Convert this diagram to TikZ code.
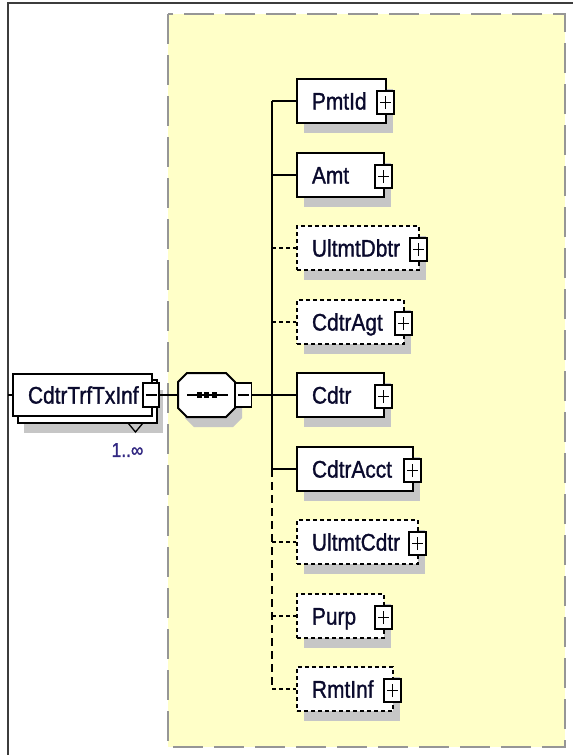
\documentclass[tikz,border=0pt]{standalone}
\usepackage{fontspec}
\setmainfont{Liberation Sans}[FakeStretch=0.87,FakeBold=1.2]
\usetikzlibrary{shadows}
\definecolor{yel}{RGB}{255,255,200}
\definecolor{shgray}{RGB}{198,198,198}
\definecolor{dgray}{RGB}{150,150,150}
\definecolor{framecol}{RGB}{60,60,60}
\definecolor{txt}{RGB}{10,10,45}
\definecolor{multcol}{RGB}{50,40,130}
\tikzset{
  elem/.style={draw=black, line width=2pt, fill=white, minimum height=44pt,
    inner xsep=15pt, inner ysep=0pt, align=left, text height=17.2pt, text depth=0pt,
    font=\fontsize{24}{24}\selectfont, text=txt, anchor=west,
    drop shadow={shadow xshift=7pt, shadow yshift=-10pt, fill=shgray, opacity=1}},
  optelem/.style={elem, dash pattern=on 4pt off 3pt},
  pmbox/.style={draw=black, fill=white, line width=1.5pt, minimum width=17pt,
    minimum height=23pt, inner sep=0pt},
  plusbox/.style={pmbox, path picture={
    \draw[line width=1.5pt] ([xshift=-5.5pt]path picture bounding box.center) -- ([xshift=5.5pt]path picture bounding box.center)
      ([yshift=-6.5pt]path picture bounding box.center) -- ([yshift=6.5pt]path picture bounding box.center);}},
  minusbox/.style={pmbox, minimum width=16pt, minimum height=24pt, path picture={
    \draw[line width=1.5pt] ([xshift=-5.5pt]path picture bounding box.center) -- ([xshift=5.5pt]path picture bounding box.center);}},
  conn/.style={line width=2pt, black},
  optconn/.style={conn, dash pattern=on 4pt off 3pt},
}
\begin{document}
\begin{tikzpicture}[x=1pt,y=-1pt]
\useasboundingbox (0,0) rectangle (573,755);
% yellow sequence area
\draw[fill=yel, draw=dgray, line width=1.8pt, dash pattern=on 30pt off 11pt] (168,14) rectangle (565,747);
% outer frame
\draw[framecol, line width=1.8pt] (8,755) -- (8,3) -- (573,3);

% root element (repeated)
\node[draw=black, line width=2pt, fill=white, minimum width=139pt, minimum height=43pt, inner sep=0pt,
  drop shadow={shadow xshift=6pt, shadow yshift=-10pt, fill=shgray, opacity=1}] (rootback) at (87.5,401.5) {};
\node[draw=black, line width=2pt, fill=white, minimum width=139pt, minimum height=42pt, inner xsep=15pt,
  inner ysep=0pt, text width=109pt, align=left, text height=17.2pt, text depth=0pt,
  font=\fontsize{24}{24}\selectfont, text=txt] (root) at (82.5,395) {CdtrTrfTxInf};
\node[minusbox] (mroot) at (151,395) {};
\draw[black, line width=1.3pt] (128,423) -- (135.5,432) -- (143,423);
\node[font=\fontsize{20}{20}\selectfont, text=multcol, inner sep=0pt] (mult) at (127.5,450) {1..∞};
\coordinate (fl) at (8,395);
\draw[conn] (fl) -- (root.west);

% sequence compositor
\fill[shgray, shift={(7,10)}] (187,373) -- (226,373) -- (235,382) -- (235,408) -- (226,417) -- (187,417) -- (178,408) -- (178,382) -- cycle;
\draw[fill=white, line width=2pt] (187,373) -- (226,373) -- (235,382) -- (235,408) -- (226,417) -- (187,417) -- (178,408) -- (178,382) -- cycle;
\node[minimum width=57pt, minimum height=44pt, inner sep=0pt] (seq) at (206.5,395) {};
\draw[line width=2pt] (187,395) -- (228,395);
\fill (197,392) rectangle (202,398);
\fill (204,392) rectangle (209,398);
\fill (212,392) rectangle (217,398);
\node[minusbox] (mseq) at (243.5,395) {};
\draw[conn] (mroot) -- (seq);

% children
\node[elem, text width=59pt] (PmtId) at (296,101) {PmtId};
\node[elem, text width=57pt] (Amt) at (296,175) {Amt};
\node[optelem, text width=92pt] (UltmtDbtr) at (296,248) {UltmtDbtr};
\node[optelem, text width=77pt] (CdtrAgt) at (296,322) {CdtrAgt};
\node[elem, text width=57pt] (Cdtr) at (296,395) {Cdtr};
\node[elem, text width=86pt] (CdtrAcct) at (296,469) {CdtrAcct};
\node[optelem, text width=91pt] (UltmtCdtr) at (296,542) {UltmtCdtr};
\node[optelem, text width=57pt] (Purp) at (296,616) {Purp};
\node[optelem, text width=66pt] (RmtInf) at (296,689) {RmtInf};

\foreach \n in {PmtId,Amt,UltmtDbtr,CdtrAgt,Cdtr,CdtrAcct,UltmtCdtr,Purp,RmtInf}
  \node[plusbox] (p\n) at ([xshift=-1.5pt,yshift=-1.5pt]\n.east) {};

% trunk
\coordinate (t0) at (272,101);
\coordinate (t1) at (272,175);
\coordinate (t2) at (272,248);
\coordinate (t3) at (272,322);
\coordinate (t4) at (272,395);
\coordinate (t5) at (272,469);
\coordinate (t6) at (272,542);
\coordinate (t7) at (272,616);
\coordinate (t8) at (272,689);
\draw[conn] (t0) -- (t5);
\draw[conn, dash pattern=on 8pt off 5pt] (t5) -- (t8);
\draw[conn] (mseq) -- (t4);
\draw[conn] (t0) -- (PmtId.west);
\draw[conn] (t1) -- (Amt.west);
\draw[optconn] (t2) -- (UltmtDbtr.west);
\draw[optconn] (t3) -- (CdtrAgt.west);
\draw[conn] (t4) -- (Cdtr.west);
\draw[conn] (t5) -- (CdtrAcct.west);
\draw[optconn] (t6) -- (UltmtCdtr.west);
\draw[optconn] (t7) -- (Purp.west);
\draw[optconn] (t8) -- (RmtInf.west);
\end{tikzpicture}
\end{document}
